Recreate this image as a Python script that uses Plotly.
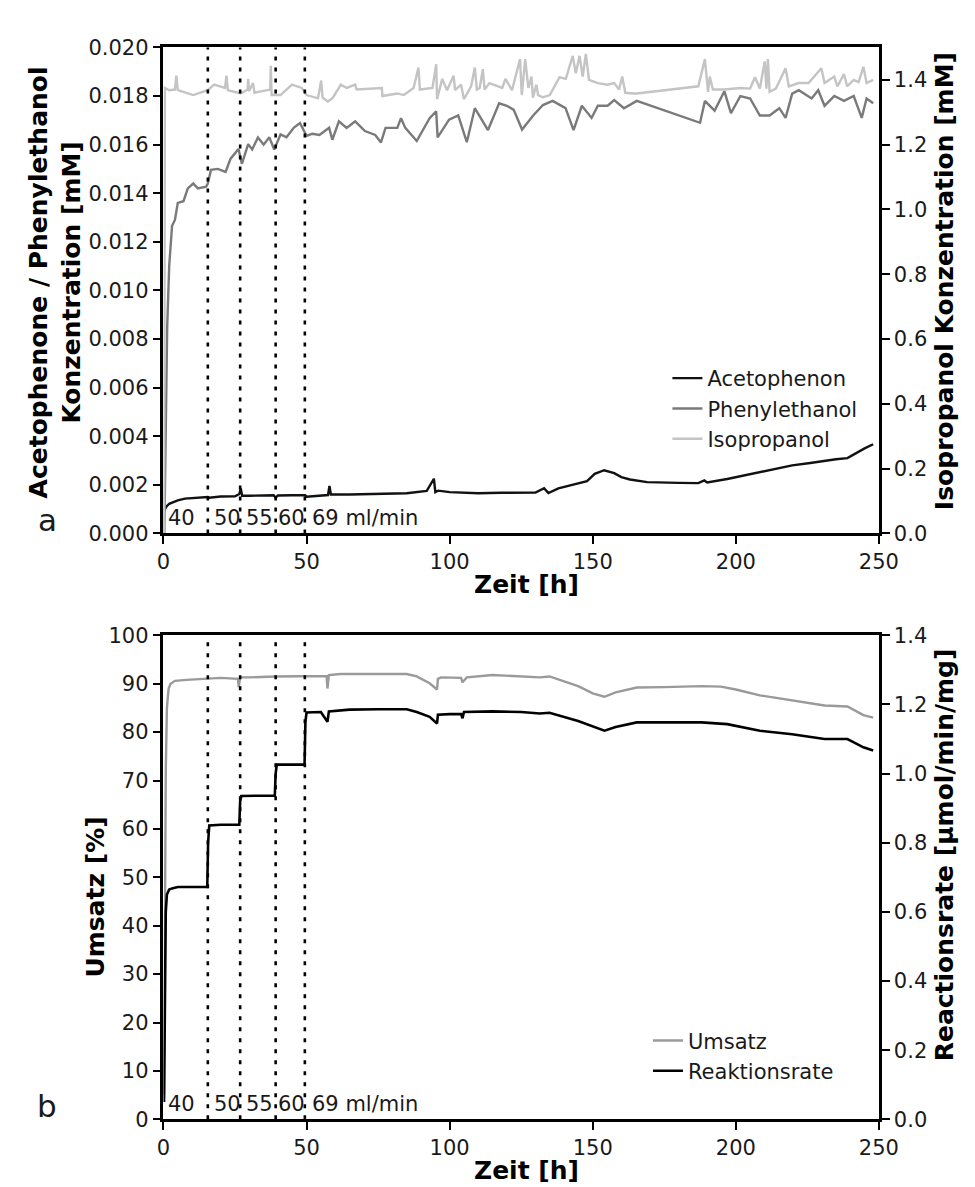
import plotly.graph_objects as go

# ---------------- data ----------------
# Panel a: Acetophenon (left axis, mM)
ace_t = [0.3, 1, 2, 3.5, 5, 7.5, 10, 15.5, 16, 20,
         25, 26.5, 27, 27.5, 30, 35, 38.5, 39.2, 40, 45,
         49.5, 50, 55, 57.5, 58, 58.5, 65, 75, 85, 92,
         94.5, 95, 96, 100, 110, 118, 125, 130, 133, 134.5,
         138, 142.7, 145, 148, 150.7, 154, 157.5, 160, 163, 169,
         180, 186.9, 189, 190, 197, 203, 208.4, 214, 219.7, 226,
         231, 235, 239, 242.5, 245, 248]
ace_v = [0.00095, 0.00110, 0.00122, 0.00130, 0.00136, 0.00143, 0.00146, 0.00150, 0.00147, 0.00152,
         0.00153, 0.00162, 0.00185, 0.00155, 0.00155, 0.00157, 0.00157, 0.00147, 0.00156, 0.00157,
         0.00157, 0.00151, 0.00156, 0.00158, 0.00195, 0.00160, 0.00160, 0.00162, 0.00165, 0.00175,
         0.00225, 0.00170, 0.00176, 0.00170, 0.00165, 0.00167, 0.00166, 0.00168, 0.00186, 0.00166,
         0.00185, 0.00200, 0.00206, 0.00215, 0.00245, 0.00260, 0.00248, 0.00232, 0.00222, 0.00211,
         0.00208, 0.00207, 0.00218, 0.00210, 0.00224, 0.00238, 0.00253, 0.00265, 0.00280, 0.00290,
         0.00300, 0.00305, 0.00310, 0.00335, 0.00350, 0.00367]

# Panel a: Phenylethanol (left axis, mM)
phe_t = [0.3, 0.8, 1.3, 2, 3, 4, 5, 7, 8.5, 10.4,
         12, 14.9, 15.5, 16.6, 19, 21.7, 23.4, 26.2, 27.4, 29.6,
         31, 33, 35, 37, 38.7, 40.9, 43, 45.5, 47.7, 50,
         52, 54.5, 57.9, 59, 61.3, 64, 67, 70.4, 74, 76,
         77.6, 81.7, 83, 84.5, 88.5, 93, 95.3, 95.8, 99.8, 103,
         106, 108.8, 113.4, 117.3, 120, 122.4, 125.3, 129.2, 132.6, 136,
         140.5, 143.3, 146.2, 149.6, 151.8, 155.2, 157.5, 160.9, 165.4, 187.5,
         189.2, 192.6, 196, 198.3, 201.6, 205, 208.4, 211.8, 215.2, 217.4,
         219.7, 222, 226.5, 228.8, 231, 234.4, 237.8, 241.2, 244, 245.7,
         248]
phe_v = [0.0, 0.0045, 0.0085, 0.0110, 0.01266, 0.0129, 0.0136, 0.01367, 0.0142, 0.0144,
         0.0142, 0.01427, 0.0144, 0.01496, 0.0150, 0.01488, 0.01541, 0.01582, 0.01521, 0.01602,
         0.0158, 0.01629, 0.0160, 0.0163, 0.0158, 0.01642, 0.0163, 0.01669, 0.01689, 0.01636,
         0.01645, 0.0164, 0.01669, 0.0162, 0.01696, 0.01669, 0.01696, 0.01656, 0.0164, 0.01609,
         0.01669, 0.01669, 0.01709, 0.01669, 0.01615, 0.01709, 0.01737, 0.0163, 0.01703, 0.0172,
         0.0161, 0.0175, 0.0166, 0.0177, 0.0176, 0.01743, 0.01662, 0.0172, 0.01763, 0.0178,
         0.0175, 0.0166, 0.0176, 0.0171, 0.0176, 0.0176, 0.01783, 0.0175, 0.0178, 0.0169,
         0.0178, 0.0174, 0.0182, 0.0173, 0.0180, 0.0179, 0.0172, 0.0172, 0.0175, 0.0171,
         0.0181, 0.01824, 0.0179, 0.01824, 0.0176, 0.0180, 0.0178, 0.0180, 0.0171, 0.0179,
         0.0177]

# Panel a: Isopropanol (right axis, mM)
iso_t = [0.2, 0.5, 2, 4, 4.5, 5, 10.4, 15.5, 17.7, 21.5,
         22, 22.5, 27, 29.4, 29.6, 29.9, 31.3, 31.8, 37.3, 37.5,
         37.8, 40.9, 44.9, 48.3, 50, 54, 55.1, 55.6, 57.4, 59,
         62, 64, 67, 67.5, 76.3, 76.5, 81.7, 84, 87.4, 89.1,
         89.6, 94, 95.3, 95.6, 97.4, 99.1, 101.4, 101.9, 104, 105,
         107.5, 108.8, 109.5, 110.5, 111.6, 112.2, 113.9, 118.4, 119.5, 121.8,
         124.6, 125.2, 126.4, 127.5, 128.6, 129.1, 130.3, 130.9, 132.6, 135,
         138.4, 140.6, 143, 144.1, 145.4, 146.5, 147.6, 148.7, 151.8, 155.2,
         157.5, 159.2, 160.3, 161.4, 164.3, 165.4, 186.9, 189.2, 190.3, 190.9,
         192, 196, 201.6, 205, 206.7, 208.4, 210.1, 210.7, 211.2, 211.8,
         214, 217.4, 218.5, 222, 225.4, 229.9, 231, 234.4, 235.5, 237.8,
         238.9, 241.2, 242.9, 244.6, 245.7, 248]
iso_v = [0.0, 1.375, 1.368, 1.37, 1.413, 1.368, 1.353, 1.368, 1.385, 1.375,
         1.413, 1.368, 1.358, 1.37, 1.403, 1.365, 1.39, 1.36, 1.37, 1.443,
         1.353, 1.353, 1.385, 1.375, 1.353, 1.343, 1.398, 1.345, 1.333, 1.343,
         1.385, 1.375, 1.385, 1.37, 1.375, 1.35, 1.358, 1.353, 1.375, 1.438,
         1.37, 1.375, 1.448, 1.34, 1.403, 1.368, 1.413, 1.368, 1.385, 1.34,
         1.38, 1.438, 1.37, 1.375, 1.433, 1.37, 1.39, 1.375, 1.403, 1.368,
         1.464, 1.353, 1.464, 1.375, 1.41, 1.345, 1.385, 1.353, 1.346, 1.353,
         1.408, 1.403, 1.474, 1.42, 1.474, 1.41, 1.48, 1.40, 1.39, 1.385,
         1.39, 1.37, 1.41, 1.36, 1.358, 1.358, 1.38, 1.464, 1.363, 1.41,
         1.37, 1.37, 1.375, 1.373, 1.408, 1.373, 1.457, 1.373, 1.464, 1.363,
         1.373, 1.436, 1.38, 1.39, 1.39, 1.436, 1.39, 1.41, 1.38, 1.418,
         1.38, 1.40, 1.393, 1.44, 1.39, 1.40]

# Panel b: Umsatz (left axis, %)
ums_t = [0.2, 0.5, 0.8, 1.2, 1.8, 2.5, 4, 8, 15.5, 20,
         26, 26.3, 26.8, 30, 39, 45, 50, 57, 57.3, 57.8,
         62, 75, 85, 88.5, 93, 95.6, 95.9, 97, 104, 104.5,
         106, 115, 125, 131.5, 134.9, 140, 144.9, 150, 154.1, 158,
         165.4, 175, 188, 194.8, 200, 208.4, 219.7, 231, 239, 244.6,
         248]
ums_v = [5, 40, 72, 85, 89, 90, 90.6, 90.8, 91, 91.2,
         91, 89.3, 91.3, 91.3, 91.5, 91.5, 91.5, 91.6, 89.0, 91.8,
         92, 92, 92, 91.5, 90.1, 88.8, 91, 91.3, 91.2, 90.3,
         91.3, 91.8, 91.5, 91.3, 91.5, 90.5, 89.5, 88, 87.3, 88.2,
         89.2, 89.3, 89.5, 89.4, 88.8, 87.6, 86.5, 85.5, 85.3, 83.5,
         83.0]

# Panel b: Reaktionsrate (right axis, umol/min/mg)
rate_t = [0.2, 0.5, 0.8, 1.2, 2, 3, 5, 10, 15.3, 15.6,
          16, 20, 26.5, 26.8, 27.2, 33, 38.9, 39.2, 39.6, 45,
          49.3, 49.6, 50, 55, 57.3, 57.8, 65, 75, 85, 88.5,
          93, 95.6, 95.9, 100, 104, 104.5, 105, 115, 125, 131.5,
          134.9, 144.9, 154.1, 158, 165.4, 188, 197, 208.4, 219.7, 231,
          239, 244.6, 248]
rate_v = [0.05, 0.40, 0.60, 0.65, 0.665, 0.668, 0.672, 0.672, 0.672, 0.80,
          0.85, 0.852, 0.852, 0.92, 0.935, 0.936, 0.936, 1.0, 1.026, 1.026,
          1.026, 1.15, 1.177, 1.178, 1.15, 1.18, 1.185, 1.186, 1.186, 1.178,
          1.164, 1.145, 1.17, 1.172, 1.172, 1.16, 1.178, 1.18, 1.178, 1.174,
          1.176, 1.152, 1.124, 1.135, 1.148, 1.148, 1.143, 1.124, 1.114, 1.10,
          1.10, 1.076, 1.067]

# flow-rate change times (h) and flow labels
flow_times = [15.5, 26.8, 39.2, 49.4]
flow_label_t = [0.8, 17.1, 28.2, 39.3, 51.1]
flow_labels = ["40", "50", "55", "60", "69 ml/min"]

x_ticks = [0, 50, 100, 150, 200, 250]

# ---------------- layout helpers ----------------
W, H = 975, 1187
FONT = "DejaVu Sans"


def fx(p):
    return p / W


def fy(p):
    return 1 - p / H


XL, XR = 152.7, 888.5
A_TOP, A_BOT = 28, 524
B_TOP, B_BOT = 628, 1122

fig = go.Figure()

fig.add_trace(go.Scatter(x=ace_t, y=ace_v, name="Acetophenon", mode="lines",
                         line=dict(color="#111111", width=2.4), xaxis="x", yaxis="y", legend="legend"))
fig.add_trace(go.Scatter(x=phe_t, y=phe_v, name="Phenylethanol", mode="lines",
                         line=dict(color="#7a7a7a", width=2.4), xaxis="x", yaxis="y", legend="legend"))
fig.add_trace(go.Scatter(x=iso_t, y=iso_v, name="Isopropanol", mode="lines",
                         line=dict(color="#c4c4c4", width=2.4), xaxis="x", yaxis="y2", legend="legend"))
fig.add_trace(go.Scatter(x=ums_t, y=ums_v, name="Umsatz", mode="lines",
                         line=dict(color="#9a9a9a", width=2.4), xaxis="x2", yaxis="y3", legend="legend2"))
fig.add_trace(go.Scatter(x=rate_t, y=rate_v, name="Reaktionsrate", mode="lines",
                         line=dict(color="#000000", width=2.6), xaxis="x2", yaxis="y4", legend="legend2"))

tickfont = dict(family=FONT, size=21, color="#1a1a1a")
common_x = dict(range=[0, 250], tickvals=x_ticks, showline=True, linecolor="black", linewidth=2.5,
                mirror=True, ticks="outside", ticklen=8, tickwidth=2, tickcolor="black",
                showgrid=False, zeroline=False, tickfont=tickfont, domain=[fx(XL), fx(XR)])
common_y = dict(showline=True, linecolor="black", linewidth=2.5, ticks="outside", ticklen=8,
                tickwidth=2, tickcolor="black", showgrid=False, zeroline=False, tickfont=tickfont)

fig.update_layout(
    width=W, height=H,
    margin=dict(l=0, r=0, t=0, b=0),
    paper_bgcolor="white", plot_bgcolor="white",
    font=dict(family=FONT, color="black"),
    xaxis=dict(anchor="y", **common_x),
    yaxis=dict(domain=[fy(A_BOT), fy(A_TOP)], range=[0, 0.020], dtick=0.002, tickformat=".3f",
               anchor="x", **common_y),
    yaxis2=dict(overlaying="y", side="right", anchor="x", range=[0, 1.5],
                tickvals=[0, 0.2, 0.4, 0.6, 0.8, 1.0, 1.2, 1.4], tickformat=".1f", **common_y),
    xaxis2=dict(anchor="y3", **common_x),
    yaxis3=dict(domain=[fy(B_BOT), fy(B_TOP)], range=[0, 100], dtick=10, anchor="x2", **common_y),
    yaxis4=dict(overlaying="y3", side="right", anchor="x2", range=[0, 1.4], dtick=0.2,
                tickformat=".1f", **common_y),
    legend=dict(x=fx(671), y=fy(345), xanchor="left", yanchor="top", bgcolor="rgba(0,0,0,0)",
                font=dict(family=FONT, size=21, color="#1a1a1a"), itemwidth=30, tracegroupgap=0),
    legend2=dict(x=fx(651), y=fy(1021), xanchor="left", yanchor="top", bgcolor="rgba(0,0,0,0)",
                 font=dict(family=FONT, size=21, color="#1a1a1a"), itemwidth=30, tracegroupgap=0),
    showlegend=True,
)

# dotted vertical lines marking flow changes
shapes = []
for t in flow_times:
    for xr, yr in (("x", "y domain"), ("x2", "y3 domain")):
        shapes.append(dict(type="line", xref=xr, yref=yr, x0=t, x1=t, y0=0, y1=1,
                           line=dict(color="black", width=2.6, dash="4px,7px")))
fig.update_layout(shapes=shapes)

ann = []
# flow labels
for xr, yr in (("x", "y"), ("x2", "y3")):
    for t, lab in zip(flow_label_t, flow_labels):
        ann.append(dict(x=t, y=0, xref=xr, yref=yr, text=lab, showarrow=False, xanchor="left",
                        yanchor="bottom", yshift=1, font=dict(family=FONT, size=21, color="#1a1a1a")))

title_font = dict(family=FONT, size=25, color="black")
# axis titles
ann += [
    dict(x=fx(41), y=fy(268), xref="paper", yref="paper", showarrow=False, textangle=-90,
         text="<b>Acetophenone / Phenylethanol<br>Konzentration [mM]</b>", font=title_font,
         xanchor="center", yanchor="middle"),
    dict(x=fx(956), y=fy(267), xref="paper", yref="paper", showarrow=False, textangle=-90,
         text="<b>Isopropanol Konzentration [mM]</b>", font=title_font,
         xanchor="center", yanchor="middle"),
    dict(x=fx(526), y=fy(576), xref="paper", yref="paper", showarrow=False,
         text="<b>Zeit [h]</b>", font=title_font, xanchor="center", yanchor="middle"),
    dict(x=fx(83), y=fy(895), xref="paper", yref="paper", showarrow=False, textangle=-90,
         text="<b>Umsatz [%]</b>", font=title_font, xanchor="center", yanchor="middle"),
    dict(x=fx(956), y=fy(852), xref="paper", yref="paper", showarrow=False, textangle=-90,
         text="<b>Reactionsrate [µmol/min/mg]</b>", font=title_font,
         xanchor="center", yanchor="middle"),
    dict(x=fx(526), y=fy(1174), xref="paper", yref="paper", showarrow=False,
         text="<b>Zeit [h]</b>", font=title_font, xanchor="center", yanchor="middle"),
    dict(x=fx(33), y=fy(510), xref="paper", yref="paper", showarrow=False,
         text="a", font=dict(family=FONT, size=31, color="#1a1a1a"), xanchor="center", yanchor="middle"),
    dict(x=fx(33), y=fy(1108), xref="paper", yref="paper", showarrow=False,
         text="b", font=dict(family=FONT, size=31, color="#1a1a1a"), xanchor="center", yanchor="middle"),
]
fig.update_layout(annotations=ann)

fig.write_html("out.html")
